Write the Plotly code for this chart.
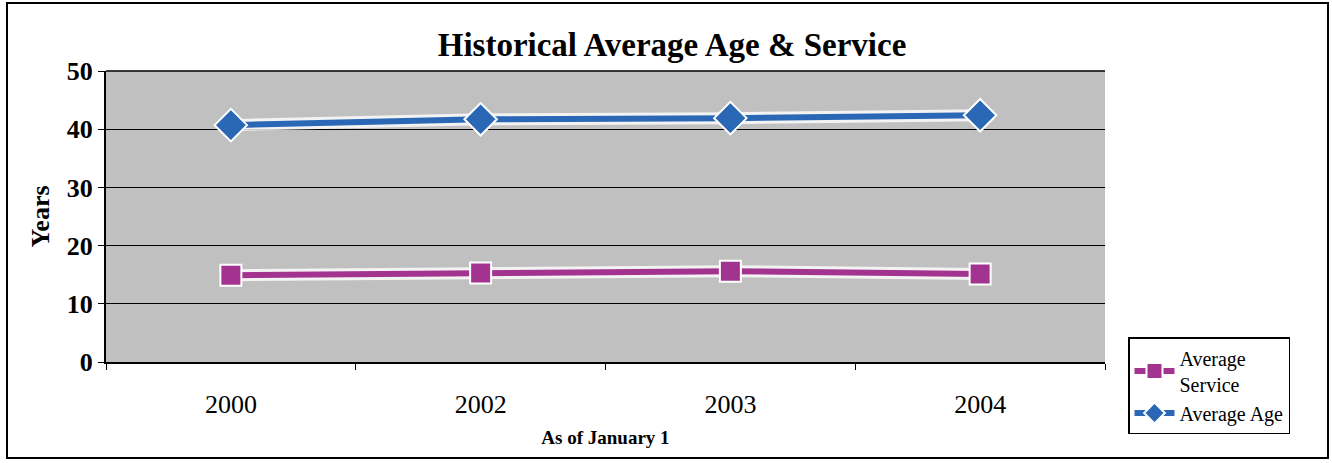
import plotly.graph_objects as go

# Values as of January 1 of each year
years = ["2000", "2002", "2003", "2004"]
average_service = [14.9, 15.3, 15.6, 15.1]
average_age = [40.7, 41.7, 41.9, 42.4]

SERIF = "Liberation Serif, Times New Roman, serif"
BLUE = "#2a67b4"
MAGENTA = "#a2338f"

fig = go.Figure()

# white halo under each line
for vals in (average_service, average_age):
    fig.add_trace(go.Scatter(
        x=years, y=vals, mode="lines",
        line=dict(color="rgba(255,255,255,0.8)", width=12),
        showlegend=False, hoverinfo="skip"))

fig.add_trace(go.Scatter(
    x=years, y=average_service, name="Average<br>Service",
    mode="lines+markers",
    line=dict(color=MAGENTA, width=6),
    marker=dict(symbol="square", size=21, color=MAGENTA,
                line=dict(color="white", width=2))))

fig.add_trace(go.Scatter(
    x=years, y=average_age, name="Average Age",
    mode="lines+markers",
    line=dict(color=BLUE, width=6),
    marker=dict(symbol="diamond", size=25, color=BLUE,
                line=dict(color="white", width=2))))

fig.update_layout(
    width=1332, height=463,
    margin=dict(l=106, r=227, t=71, b=101, autoexpand=False),
    paper_bgcolor="white",
    plot_bgcolor="#c0c0c0",
    font=dict(family=SERIF, color="black"),
    title=dict(text="<b>Historical Average Age & Service</b>",
               x=672 / 1332, xanchor="center",
               y=1 - 44 / 463, yanchor="middle",
               font=dict(size=33, family=SERIF)),
    xaxis=dict(
        type="category", range=[-0.5, 3.5], automargin=False,
        showline=True, linecolor="black", linewidth=2,
        ticks="outside", tickson="boundaries", ticklen=6,
        tickcolor="black", showgrid=False,
        tickfont=dict(size=26, family=SERIF),
        ticklabelstandoff=18,
        title=dict(text="<b>As of January 1</b>",
                   font=dict(size=19, family=SERIF), standoff=12),
    ),
    yaxis=dict(
        range=[0, 50], dtick=10, automargin=False,
        showline=True, linecolor="black", linewidth=2,
        ticks="outside", ticklen=6, tickcolor="black",
        showgrid=True, gridcolor="black", gridwidth=1,
        zeroline=False,
        tickfont=dict(size=26, family=SERIF),
        tickprefix="<b>", ticksuffix="</b>",
        title=dict(text="<b>Years</b>",
                   font=dict(size=26, family=SERIF), standoff=10),
    ),
    legend=dict(
        x=(1128 - 106) / 999, xanchor="left",
        y=(362 - 337) / 291, yanchor="top",
        bgcolor="white", bordercolor="black", borderwidth=1.5,
        font=dict(size=20, family=SERIF),
        tracegroupgap=0, itemwidth=40,
    ),
    showlegend=True,
)

# top border line of the plot area
fig.add_shape(type="line", xref="paper", yref="paper",
              x0=0, x1=1, y0=1, y1=1,
              line=dict(color="black", width=1.5))

# outer chart frame
fig.add_shape(type="rect", xref="paper", yref="paper",
              x0=(7 - 106) / 999, x1=(1328 - 106) / 999,
              y0=(362 - 458) / 291, y1=(362 - 3) / 291,
              line=dict(color="black", width=2), fillcolor="rgba(0,0,0,0)",
              layer="below")

fig.write_html("out.html")
